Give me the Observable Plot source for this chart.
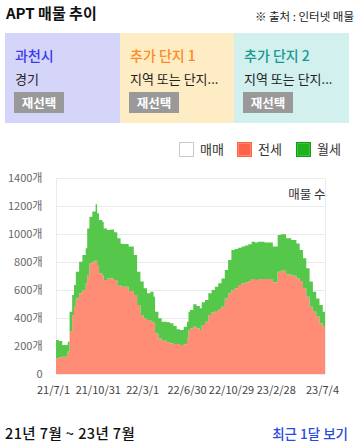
<!DOCTYPE html>
<html><head><meta charset="utf-8">
<script src="https://cdn.jsdelivr.net/npm/d3@7"></script>
<script src="https://cdn.jsdelivr.net/npm/@observablehq/plot@0.6"></script>
<style>
body{margin:0;width:358px;height:447px;overflow:hidden;background:#fff;font-family:"Noto Sans CJK KR","Noto Sans",sans-serif;position:relative;}
.abs{position:absolute;white-space:nowrap;}
.card{position:absolute;top:33px;height:90px;}
.c1{font-size:14px;font-weight:500;position:absolute;left:10px;top:13px;line-height:18px;}
.c2{font-size:13px;position:absolute;left:10px;top:37px;line-height:18px;color:#222;}
.btn{position:absolute;left:9px;top:59px;width:50px;height:21px;background:#999;color:#fff;font-weight:bold;font-size:12.5px;line-height:21px;text-align:center;}
.lg{position:absolute;top:142px;width:15px;height:15px;box-sizing:border-box;}
.lt{position:absolute;top:140px;font-size:13px;color:#333;line-height:18px;}
#chart{position:absolute;left:0;top:160px;}
</style></head>
<body>
<div class="abs" style="left:6px;top:3px;font-size:15px;font-weight:bold;color:#111;line-height:20px;">APT 매물 추이</div>
<div class="abs" style="right:4px;top:8px;font-size:11.5px;color:#222;line-height:16px;">※ 출처 : 인터넷 매물</div>

<div class="card" style="left:5px;width:115px;background:#d5d5fa;">
  <div class="c1" style="color:#3b3bf0;">과천시</div>
  <div class="c2">경기</div>
  <div class="btn">재선택</div>
</div>
<div class="card" style="left:120px;width:114px;background:#feedc4;">
  <div class="c1" style="color:#ff8a1e;">추가 단지 1</div>
  <div class="c2">지역 또는 단지...</div>
  <div class="btn">재선택</div>
</div>
<div class="card" style="left:234px;width:115px;background:#d1f0ee;">
  <div class="c1" style="color:#1a9994;">추가 단지 2</div>
  <div class="c2">지역 또는 단지...</div>
  <div class="btn">재선택</div>
</div>

<div class="lg" style="left:179px;background:#fff;border:1.5px solid #c8c8d0;"></div>
<div class="lt" style="left:200px;">매매</div>
<div class="lg" style="left:237px;background:#ff6347;border:1.5px solid #ff6347;box-shadow:inset 0 0 0 1px #ff8a70;"></div>
<div class="lt" style="left:258px;">전세</div>
<div class="lg" style="left:296px;background:#1db31d;border:1.5px solid #129a12;box-shadow:inset 0 0 0 1px #3cc43c;"></div>
<div class="lt" style="left:317px;">월세</div>

<div id="chart"></div>

<div class="abs" style="left:5px;top:423px;font-size:14.5px;font-weight:500;letter-spacing:0.4px;color:#111;line-height:20px;">21년 7월 ~ 23년 7월</div>
<div class="abs" style="right:10px;top:424px;font-size:13.5px;font-weight:500;color:#2a4be0;line-height:18px;">최근 1달 보기</div>

<script>
const dates = [
"2021-07-01","2021-07-09","2021-07-18","2021-08-02","2021-08-07","2021-08-14","2021-08-19","2021-08-24",
"2021-09-02","2021-09-11","2021-09-20","2021-09-24","2021-09-30","2021-10-08","2021-10-17","2021-10-21",
"2021-10-26","2021-11-04","2021-11-08","2021-11-17","2021-11-27","2021-12-06","2021-12-15","2021-12-24",
"2021-12-27","2022-01-15","2022-01-29","2022-02-07","2022-02-16","2022-02-25","2022-03-06","2022-03-15",
"2022-03-24","2022-03-28","2022-04-06","2022-04-15","2022-04-29","2022-05-08","2022-05-17","2022-05-26",
"2022-06-04","2022-06-14","2022-06-23","2022-06-27",
"2022-07-01","2022-07-10","2022-07-19","2022-07-28","2022-08-02","2022-08-11","2022-08-20","2022-08-29",
"2022-09-07","2022-09-16","2022-09-25","2022-10-04","2022-10-13","2022-10-22","2022-10-31","2022-11-09",
"2022-11-19","2022-11-28","2022-12-07","2022-12-16","2022-12-25",
"2023-01-02","2023-01-20","2023-02-12","2023-02-25","2023-03-06","2023-03-20","2023-04-03","2023-04-17",
"2023-04-26","2023-05-05","2023-05-14","2023-05-23","2023-06-01","2023-06-10","2023-06-19","2023-06-28",
"2023-07-04"];
const jeonse = [
112,119,124,160,302,421,481,540,576,600,648,707,790,802,814,778,719,707,671,683,683,671,636,624,
624,593,564,493,421,398,386,374,362,290,255,238,226,219,214,214,207,212,255,314,
326,338,326,314,350,374,421,440,450,464,481,540,576,600,612,636,648,655,664,679,671,
679,679,655,731,738,712,702,683,664,612,552,481,445,410,362,338,
338];
const wolse = [
131,117,83,71,143,143,155,191,226,250,250,333,334,358,398,370,381,381,369,346,350,341,333,309,
305,317,286,238,239,214,190,214,190,155,143,136,143,143,129,105,107,126,119,131,
131,160,160,155,162,154,155,160,174,184,202,203,238,286,281,266,262,262,262,266,269,
266,261,255,262,260,257,255,250,222,214,203,179,143,130,131,107,
107];
const seriesNames = ["전세","월세"];
const seriesColors = ["#ff8c75","#55c84b"];
const yTicks = [0,200,400,600,800,1000,1200,1400];
const xTickDates = ["2021-07-01","2021-10-31","2022-03-01","2022-06-30","2022-10-29","2023-02-28","2023-07-04"];
const xTickLabels = ["21/7/1","21/10/31","22/3/1","22/6/30","22/10/29","23/2/28","23/7/4"];

const parse = d3.utcParse("%Y-%m-%d");
const rows = [];
dates.forEach((d,i)=>{
  rows.push({date:parse(d), type:"전세", value:jeonse[i]});
  rows.push({date:parse(d), type:"월세", value:wolse[i]});
});
const xt = xTickDates.map(parse);
const xDomain = [parse(dates[0]), parse(dates[dates.length-1])];

const chart = Plot.plot({
  width:358, height:244,
  marginTop:18, marginBottom:30, marginLeft:56, marginRight:33,
  style:{fontFamily:'"Noto Sans CJK KR","Noto Sans",sans-serif', background:"transparent"},
  x:{type:"utc", domain:xDomain, label:null},
  y:{domain:[0,1400], label:null},
  color:{domain:seriesNames, range:seriesColors},
  marks:[
    Plot.gridY(yTicks, {stroke:"#ebebeb", strokeOpacity:1}),
    Plot.ruleX(xDomain, {stroke:"#ebebeb", y1:0, y2:1400}),
    Plot.areaY(rows, {x:"date", y:"value", fill:"type", order:seriesNames, curve:"step-after"}),
    Plot.axisY(yTicks, {tickSize:0, tickPadding:14, fontSize:11, fill:"#666", label:null,
      tickFormat:d=> d===0 ? "0" : d+"개"}),
    Plot.axisX(xt, {tickSize:0, tickPadding:12, fontSize:11, fill:"#444", label:null, dx:-3,
      tickFormat:(d,i)=> xTickLabels[xt.findIndex(t=>+t===+d)]}),
    Plot.text(["매물 수"], {frameAnchor:"top-right", dy:12, fontSize:12.5, fill:"#333", textAnchor:"end"})
  ]
});
document.getElementById("chart").appendChild(chart);
</script>
</body></html>
